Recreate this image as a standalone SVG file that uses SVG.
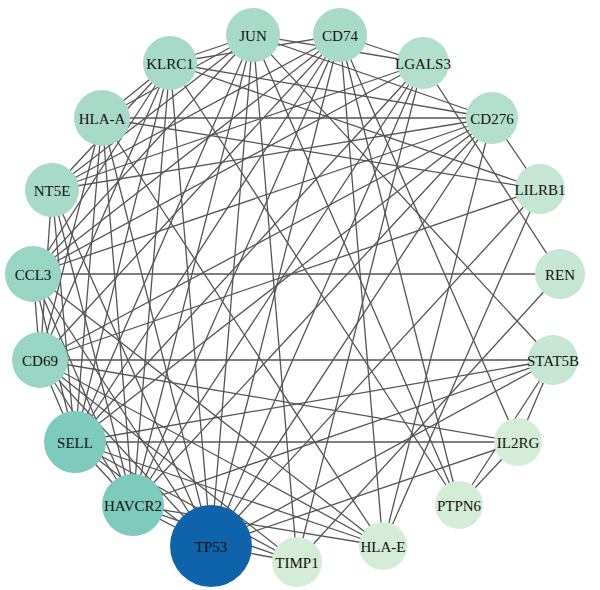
<svg xmlns="http://www.w3.org/2000/svg" width="600" height="590" viewBox="0 0 600 590">
<style>
#edges line{stroke:#555;stroke-width:1.3}
text{font-family:"Liberation Serif","DejaVu Serif",serif;font-size:15px;fill:#111;text-anchor:middle;dominant-baseline:central}
.c1{fill:#0f63a8}.c2{fill:#7ecbbd}.c3{fill:#98d5c3}.c4{fill:#a8dbc7}.c5{fill:#b3e0cd}.c6{fill:#c4e6d2}.c7{fill:#d4edd7}
</style>
<rect width="600" height="590" fill="#fff"/>
<g id="edges">
<line x1="102" y1="118" x2="492" y2="118"/>
<line x1="33" y1="274" x2="560" y2="274"/>
<line x1="40" y1="360" x2="553" y2="360"/>
<line x1="75" y1="442" x2="518" y2="442"/>
<line x1="211" y1="546" x2="297" y2="562"/>
<line x1="211" y1="546" x2="133" y2="505"/>
<line x1="133" y1="505" x2="75" y2="442"/>
<line x1="492" y1="118" x2="540" y2="189"/>
<line x1="340" y1="35" x2="423" y2="63"/>
<line x1="170" y1="63" x2="253" y2="35"/>
<line x1="102" y1="118" x2="170" y2="63"/>
<line x1="518" y1="442" x2="553" y2="360"/>
<line x1="459" y1="505" x2="518" y2="442"/>
<line x1="459" y1="505" x2="553" y2="360"/>
<line x1="102" y1="118" x2="540" y2="189"/>
<line x1="170" y1="63" x2="492" y2="118"/>
<line x1="170" y1="63" x2="540" y2="189"/>
<line x1="560" y1="274" x2="297" y2="562"/>
<line x1="423" y1="63" x2="560" y2="274"/>
<line x1="540" y1="189" x2="40" y2="360"/>
<line x1="540" y1="189" x2="383" y2="546"/>
<line x1="540" y1="189" x2="211" y2="546"/>
<line x1="253" y1="35" x2="553" y2="360"/>
<line x1="553" y1="360" x2="75" y2="442"/>
<line x1="553" y1="360" x2="133" y2="505"/>
<line x1="553" y1="360" x2="211" y2="546"/>
<line x1="518" y1="442" x2="340" y2="35"/>
<line x1="518" y1="442" x2="40" y2="360"/>
<line x1="518" y1="442" x2="211" y2="546"/>
<line x1="459" y1="505" x2="170" y2="63"/>
<line x1="459" y1="505" x2="253" y2="35"/>
<line x1="459" y1="505" x2="340" y2="35"/>
<line x1="383" y1="546" x2="40" y2="360"/>
<line x1="383" y1="546" x2="33" y2="274"/>
<line x1="383" y1="546" x2="102" y2="118"/>
<line x1="383" y1="546" x2="340" y2="35"/>
<line x1="383" y1="546" x2="492" y2="118"/>
<line x1="383" y1="546" x2="75" y2="442"/>
<line x1="383" y1="546" x2="133" y2="505"/>
<line x1="297" y1="562" x2="75" y2="442"/>
<line x1="297" y1="562" x2="40" y2="360"/>
<line x1="297" y1="562" x2="253" y2="35"/>
<line x1="297" y1="562" x2="423" y2="63"/>
<line x1="297" y1="562" x2="133" y2="505"/>
<line x1="211" y1="546" x2="75" y2="442"/>
<line x1="211" y1="546" x2="40" y2="360"/>
<line x1="211" y1="546" x2="33" y2="274"/>
<line x1="211" y1="546" x2="52" y2="190"/>
<line x1="211" y1="546" x2="102" y2="118"/>
<line x1="211" y1="546" x2="170" y2="63"/>
<line x1="211" y1="546" x2="253" y2="35"/>
<line x1="211" y1="546" x2="340" y2="35"/>
<line x1="211" y1="546" x2="423" y2="63"/>
<line x1="211" y1="546" x2="492" y2="118"/>
<line x1="133" y1="505" x2="40" y2="360"/>
<line x1="133" y1="505" x2="33" y2="274"/>
<line x1="133" y1="505" x2="52" y2="190"/>
<line x1="133" y1="505" x2="102" y2="118"/>
<line x1="133" y1="505" x2="170" y2="63"/>
<line x1="133" y1="505" x2="253" y2="35"/>
<line x1="133" y1="505" x2="340" y2="35"/>
<line x1="133" y1="505" x2="423" y2="63"/>
<line x1="133" y1="505" x2="492" y2="118"/>
<line x1="75" y1="442" x2="40" y2="360"/>
<line x1="75" y1="442" x2="33" y2="274"/>
<line x1="75" y1="442" x2="52" y2="190"/>
<line x1="75" y1="442" x2="102" y2="118"/>
<line x1="75" y1="442" x2="170" y2="63"/>
<line x1="75" y1="442" x2="253" y2="35"/>
<line x1="75" y1="442" x2="340" y2="35"/>
<line x1="75" y1="442" x2="423" y2="63"/>
<line x1="75" y1="442" x2="492" y2="118"/>
<line x1="40" y1="360" x2="33" y2="274"/>
<line x1="40" y1="360" x2="52" y2="190"/>
<line x1="40" y1="360" x2="102" y2="118"/>
<line x1="40" y1="360" x2="170" y2="63"/>
<line x1="40" y1="360" x2="340" y2="35"/>
<line x1="40" y1="360" x2="492" y2="118"/>
<line x1="33" y1="274" x2="170" y2="63"/>
<line x1="33" y1="274" x2="253" y2="35"/>
<line x1="33" y1="274" x2="340" y2="35"/>
<line x1="33" y1="274" x2="423" y2="63"/>
<line x1="33" y1="274" x2="492" y2="118"/>
<line x1="52" y1="190" x2="170" y2="63"/>
<line x1="52" y1="190" x2="253" y2="35"/>
<line x1="52" y1="190" x2="340" y2="35"/>
<line x1="52" y1="190" x2="423" y2="63"/>
<line x1="52" y1="190" x2="492" y2="118"/>
<line x1="102" y1="118" x2="253" y2="35"/>
<line x1="253" y1="35" x2="423" y2="63"/>
<line x1="253" y1="35" x2="492" y2="118"/>
<line x1="340" y1="35" x2="170" y2="63"/>
</g>
<g id="n-JUN"><circle class="c4" cx="253" cy="35" r="27"/><text x="253" y="36">JUN</text></g>
<g id="n-CD74"><circle class="c4" cx="340" cy="35" r="27"/><text x="340" y="36">CD74</text></g>
<g id="n-LGALS3"><circle class="c5" cx="423" cy="63" r="26"/><text x="423" y="64">LGALS3</text></g>
<g id="n-CD276"><circle class="c5" cx="492" cy="118" r="26"/><text x="492" y="119">CD276</text></g>
<g id="n-LILRB1"><circle class="c6" cx="540" cy="189" r="25"/><text x="540" y="190">LILRB1</text></g>
<g id="n-REN"><circle class="c6" cx="560" cy="274" r="25"/><text x="560" y="275">REN</text></g>
<g id="n-STAT5B"><circle class="c6" cx="553" cy="360" r="25"/><text x="553" y="361">STAT5B</text></g>
<g id="n-IL2RG"><circle class="c7" cx="518" cy="442" r="24"/><text x="518" y="443">IL2RG</text></g>
<g id="n-PTPN6"><circle class="c7" cx="459" cy="505" r="24"/><text x="459" y="506">PTPN6</text></g>
<g id="n-HLA-E"><circle class="c7" cx="383" cy="546" r="24"/><text x="383" y="547">HLA-E</text></g>
<g id="n-TIMP1"><circle class="c7" cx="297" cy="562" r="25"/><text x="297" y="563">TIMP1</text></g>
<g id="n-TP53"><circle class="c1" cx="211" cy="546" r="41"/><text x="211" y="547">TP53</text></g>
<g id="n-HAVCR2"><circle class="c2" cx="133" cy="505" r="31"/><text x="133" y="506">HAVCR2</text></g>
<g id="n-SELL"><circle class="c2" cx="75" cy="442" r="31"/><text x="75" y="443">SELL</text></g>
<g id="n-CD69"><circle class="c3" cx="40" cy="360" r="28"/><text x="40" y="361">CD69</text></g>
<g id="n-CCL3"><circle class="c3" cx="33" cy="274" r="28"/><text x="33" y="275">CCL3</text></g>
<g id="n-NT5E"><circle class="c4" cx="52" cy="190" r="27"/><text x="52" y="191">NT5E</text></g>
<g id="n-HLA-A"><circle class="c4" cx="102" cy="118" r="28"/><text x="102" y="119">HLA-A</text></g>
<g id="n-KLRC1"><circle class="c4" cx="170" cy="63" r="27"/><text x="170" y="64">KLRC1</text></g>
</svg>
